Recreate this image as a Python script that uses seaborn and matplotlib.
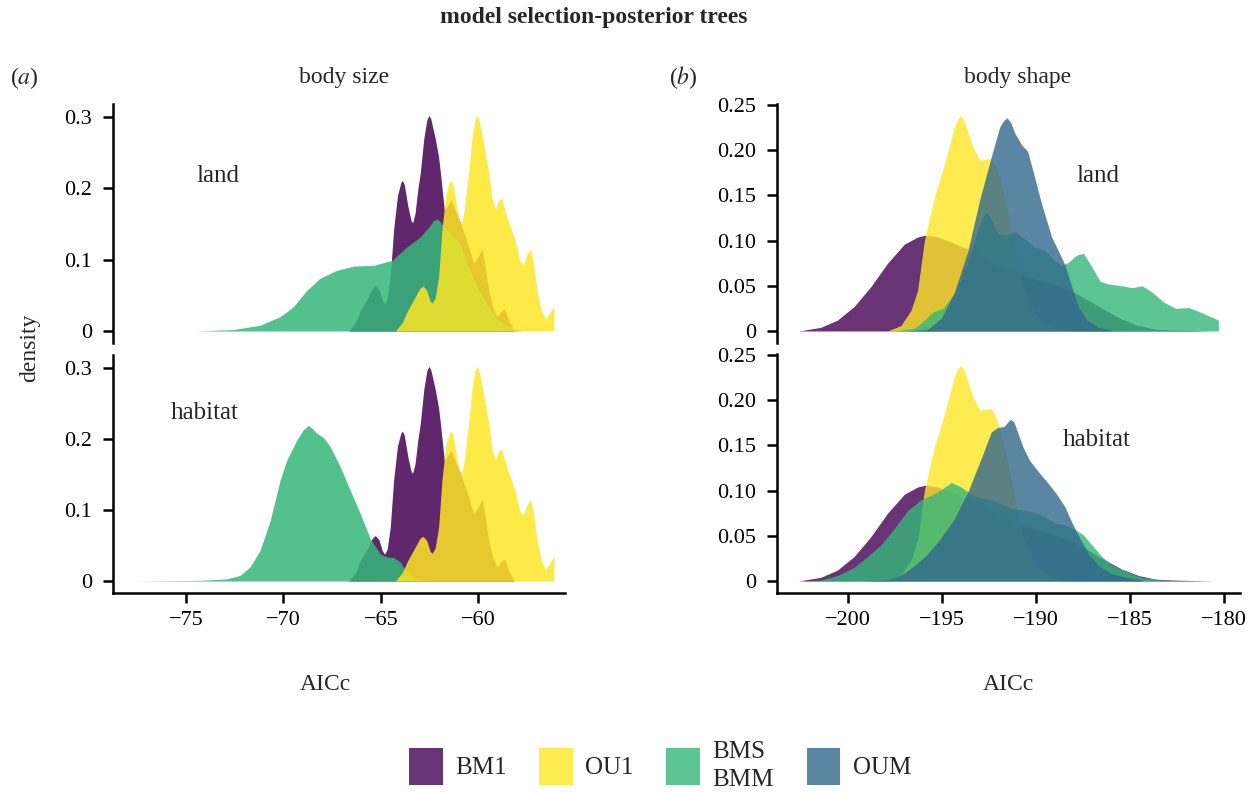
import numpy as np
import pandas as pd
import matplotlib
matplotlib.use("Agg")
import matplotlib.pyplot as plt
from matplotlib.patches import Patch
import seaborn as sns

# ---- data (AICc, density) ----
# body size (left column)
size_bm1_x = [-66.66, -66.30, -66.06, -65.70, -65.45, -65.29, -65.10, -64.92, -64.81, -64.68,
              -64.52, -64.35, -64.15, -63.98, -63.90, -63.80, -63.62, -63.45, -63.37, -63.25,
              -63.10, -62.98, -62.80, -62.65, -62.55, -62.45, -62.30, -62.21, -62.05, -61.95,
              -61.75, -61.60, -61.40, -61.20, -60.92, -60.58, -60.24, -60.00, -59.81, -59.65,
              -59.47, -59.25, -59.04, -58.85, -58.66, -58.45, -58.18]
size_bm1_y = [0.0, 0.012, 0.029, 0.045, 0.060, 0.064, 0.058, 0.042, 0.038, 0.045,
              0.076, 0.142, 0.190, 0.208, 0.211, 0.205, 0.175, 0.154, 0.152, 0.165,
              0.200, 0.222, 0.270, 0.295, 0.302, 0.298, 0.280, 0.269, 0.245, 0.222,
              0.170, 0.175, 0.184, 0.170, 0.151, 0.125, 0.095, 0.105, 0.115, 0.090,
              0.057, 0.032, 0.020, 0.027, 0.031, 0.015, 0.001]

size_ou1_x = [-64.26, -63.90, -63.66, -63.30, -63.00, -62.84, -62.65, -62.48, -62.38, -62.22,
              -62.04, -61.87, -61.68, -61.50, -61.40, -61.30, -61.12, -60.95, -60.85, -60.72,
              -60.60, -60.50, -60.33, -60.18, -60.10, -60.00, -59.85, -59.73, -59.60, -59.47,
              -59.30, -59.13, -58.98, -58.82, -58.65, -58.44, -58.28, -58.10, -57.90, -57.71,
              -57.50, -57.33, -57.18, -56.99, -56.78, -56.56, -56.35, -56.16, -56.13]
size_ou1_y = [0.0, 0.012, 0.027, 0.045, 0.060, 0.063, 0.057, 0.042, 0.039, 0.046,
              0.076, 0.142, 0.190, 0.208, 0.211, 0.205, 0.175, 0.152, 0.153, 0.170,
              0.200, 0.222, 0.270, 0.295, 0.302, 0.298, 0.280, 0.262, 0.240, 0.222,
              0.185, 0.170, 0.182, 0.186, 0.170, 0.151, 0.140, 0.125, 0.100, 0.092,
              0.108, 0.115, 0.095, 0.057, 0.028, 0.017, 0.025, 0.034, 0.034]

size_bms_land_x = [-77.62, -74.54, -72.57, -71.20, -70.17, -69.49, -68.80, -68.12, -67.26, -66.40,
                   -65.38, -64.43, -63.66, -62.98, -62.50, -62.29, -62.12, -61.95, -61.78, -61.27,
                   -60.92, -60.58, -60.07, -59.55, -59.04, -58.53, -57.84]
size_bms_land_y = [0.0, 0.0, 0.002, 0.008, 0.020, 0.034, 0.057, 0.074, 0.085, 0.091,
                   0.092, 0.099, 0.118, 0.132, 0.147, 0.155, 0.157, 0.153, 0.146, 0.132,
                   0.121, 0.095, 0.062, 0.036, 0.017, 0.007, 0.001]

size_bms_hab_x = [-77.62, -74.28, -72.91, -72.23, -71.71, -71.20, -70.68, -70.17, -69.83, -69.32,
                  -69.00, -68.72, -68.50, -68.29, -67.95, -67.60, -67.09, -66.58, -66.06, -65.55,
                  -65.03, -64.69, -64.35, -64.01, -63.75, -63.32, -62.81]
size_bms_hab_y = [0.0, 0.001, 0.003, 0.008, 0.020, 0.043, 0.085, 0.142, 0.170, 0.198,
                  0.212, 0.219, 0.214, 0.208, 0.202, 0.189, 0.161, 0.128, 0.095, 0.060,
                  0.038, 0.034, 0.033, 0.027, 0.015, 0.005, 0.001]

# body shape (right column)
shape_bm1_x = [-202.62, -201.46, -200.57, -199.68, -198.79, -197.90, -197.01, -196.30, -195.90, -195.23,
               -194.34, -193.45, -192.56, -191.67, -190.77, -189.88, -188.99, -188.10, -187.21, -186.32,
               -185.43, -184.54, -183.65, -182.76, -180.60]
shape_bm1_y = [0.0, 0.004, 0.012, 0.027, 0.049, 0.075, 0.096, 0.104, 0.106, 0.104,
               0.097, 0.089, 0.078, 0.069, 0.062, 0.056, 0.051, 0.044, 0.034, 0.023,
               0.013, 0.006, 0.002, 0.001, 0.0]

shape_ou1_x = [-197.90, -197.19, -196.65, -196.30, -195.94, -195.41, -194.87, -194.34, -194.18, -194.03,
               -193.88, -193.71, -193.36, -193.00, -192.73, -192.41, -192.20, -192.02, -191.67, -191.31,
               -190.95, -190.60, -190.06, -189.53, -188.99, -188.28]
shape_ou1_y = [0.0, 0.006, 0.023, 0.045, 0.100, 0.148, 0.185, 0.226, 0.234, 0.238,
               0.235, 0.226, 0.204, 0.189, 0.190, 0.191, 0.185, 0.174, 0.148, 0.112,
               0.071, 0.041, 0.019, 0.008, 0.003, 0.0]

shape_bmm_land_x = [-197.54, -196.47, -195.94, -195.49, -194.96, -194.34, -193.62, -193.09, -192.80, -192.64,
                    -192.45, -192.02, -191.58, -191.13, -190.60, -190.06, -189.53, -188.99, -188.64, -188.28,
                    -187.84, -187.48, -187.03, -186.59, -186.14, -185.43, -184.90, -184.36, -183.83, -183.21,
                    -182.58, -181.87, -181.16, -180.30]
shape_bmm_land_y = [0.0, 0.003, 0.012, 0.021, 0.025, 0.041, 0.076, 0.112, 0.127, 0.130,
                    0.126, 0.108, 0.106, 0.110, 0.102, 0.093, 0.089, 0.078, 0.072, 0.076,
                    0.084, 0.086, 0.071, 0.055, 0.052, 0.050, 0.048, 0.050, 0.043, 0.032,
                    0.025, 0.026, 0.020, 0.012]

shape_oum_land_x = [-196.83, -195.76, -195.05, -194.34, -193.62, -193.00, -192.38, -191.93, -191.72, -191.54,
                    -191.35, -191.13, -190.77, -190.45, -190.15, -189.71, -189.17, -188.82, -188.46, -188.10,
                    -187.75, -187.30, -186.68, -185.97]
shape_oum_land_y = [0.0, 0.002, 0.014, 0.043, 0.089, 0.145, 0.193, 0.226, 0.233, 0.236,
                    0.231, 0.219, 0.206, 0.199, 0.176, 0.141, 0.104, 0.089, 0.073, 0.049,
                    0.027, 0.012, 0.004, 0.001]

shape_bmm_hab_x = [-202.62, -201.46, -200.57, -199.68, -198.97, -198.25, -197.54, -196.83, -196.12, -195.58,
                   -195.05, -194.51, -193.98, -193.45, -192.91, -192.38, -191.84, -191.31, -190.77, -190.06,
                   -189.53, -188.99, -188.46, -187.93, -187.48, -187.03, -186.50, -185.97, -185.25, -184.36,
                   -183.29, -180.62]
shape_bmm_hab_y = [0.0, 0.001, 0.006, 0.015, 0.027, 0.040, 0.058, 0.078, 0.090, 0.095,
                   0.101, 0.109, 0.104, 0.096, 0.092, 0.090, 0.085, 0.080, 0.079, 0.076,
                   0.071, 0.064, 0.062, 0.057, 0.051, 0.040, 0.027, 0.018, 0.011, 0.004,
                   0.001, 0.0]

shape_oum_hab_x = [-199.15, -197.90, -197.19, -196.47, -195.76, -195.05, -194.34, -193.62, -192.91, -192.38,
                   -192.02, -191.70, -191.50, -191.34, -191.18, -191.04, -190.69, -190.33, -189.88, -189.35,
                   -188.90, -188.46, -188.10, -187.66, -187.21, -186.68, -185.97, -185.25, -184.36]
shape_oum_hab_y = [0.0, 0.001, 0.006, 0.017, 0.030, 0.048, 0.069, 0.099, 0.136, 0.165,
                   0.170, 0.171, 0.176, 0.179, 0.176, 0.168, 0.148, 0.133, 0.121, 0.108,
                   0.096, 0.082, 0.065, 0.047, 0.030, 0.017, 0.008, 0.004, 0.001]

models = ['BM1', 'OU1', 'BMS\nBMM', 'OUM']
model_colors = ['#440154', '#fde725', '#35b779', '#31688e']

# ---- style ----
sns.set_theme(style='ticks')
plt.rcParams['font.family'] = ['Liberation Serif', 'DejaVu Serif']
plt.rcParams['mathtext.fontset'] = 'stix'
plt.rcParams['axes.linewidth'] = 1.8
plt.rcParams['xtick.major.width'] = 1.8
plt.rcParams['ytick.major.width'] = 1.8
plt.rcParams['xtick.major.size'] = 7
plt.rcParams['ytick.major.size'] = 7
plt.rcParams['xtick.labelsize'] = 16
plt.rcParams['ytick.labelsize'] = 16
plt.rcParams['xtick.color'] = 'black'
plt.rcParams['ytick.color'] = 'black'
plt.rcParams['axes.edgecolor'] = 'black'

W, H = 1254, 792
fig = plt.figure(figsize=(W / 100, H / 100), dpi=100)


def box(l, r, t, b):
    return [l / W, 1 - b / H, (r - l) / W, (b - t) / H]


ax_tl = fig.add_axes(box(113, 565, 104, 343))
ax_bl = fig.add_axes(box(113, 565, 355, 593))
ax_tr = fig.add_axes(box(777, 1240, 104, 343))
ax_br = fig.add_axes(box(777, 1240, 354, 593))


def dens(ax, x, y, color, alpha):
    ax.fill_between(x, 0, y, color=color, alpha=alpha, linewidth=0)


# body size: BM1, BMS, OU1 drawn in this order
for ax, bx, by in [(ax_tl, size_bms_land_x, size_bms_land_y),
                   (ax_bl, size_bms_hab_x, size_bms_hab_y)]:
    dens(ax, size_bm1_x, size_bm1_y, model_colors[0], 0.85)
    dens(ax, bx, by, model_colors[2], 0.85)
    dens(ax, size_ou1_x, size_ou1_y, model_colors[1], 0.85)
    ax.set_xlim(-78.74, -55.56)
    ax.set_ylim(-0.0168, 0.318)
    ax.set_yticks([0, 0.1, 0.2, 0.3])
    ax.set_yticklabels(['0', '0.1', '0.2', '0.3'])

# body shape: BM1, OU1, BMM, OUM
for ax, gx, gy, ox, oy in [(ax_tr, shape_bmm_land_x, shape_bmm_land_y, shape_oum_land_x, shape_oum_land_y),
                           (ax_br, shape_bmm_hab_x, shape_bmm_hab_y, shape_oum_hab_x, shape_oum_hab_y)]:
    dens(ax, shape_bm1_x, shape_bm1_y, model_colors[0], 0.8)
    dens(ax, shape_ou1_x, shape_ou1_y, model_colors[1], 0.8)
    dens(ax, gx, gy, model_colors[2], 0.8)
    dens(ax, ox, oy, model_colors[3], 0.8)
    ax.set_xlim(-203.78, -179.15)
    ax.set_ylim(-0.0133, 0.2512)
    ax.set_yticks([0, 0.05, 0.10, 0.15, 0.20, 0.25])
    ax.set_yticklabels(['0', '0.05', '0.10', '0.15', '0.20', '0.25'])

for ax in [ax_tl, ax_tr]:
    sns.despine(ax=ax, bottom=True)
    ax.set_xticks([])
for ax in [ax_bl, ax_br]:
    sns.despine(ax=ax)
ax_bl.set_xticks([-75, -70, -65, -60])
ax_br.set_xticks([-200, -195, -190, -185, -180])
for ax in [ax_tl, ax_bl, ax_tr, ax_br]:
    ax.tick_params(axis='y', pad=8)
    ax.tick_params(axis='x', pad=6)

# panel labels inside axes
ax_tl.text(-73.36, 0.217, 'land', fontsize=18, ha='center', va='center')
ax_bl.text(-74.03, 0.236, 'habitat', fontsize=18, ha='center', va='center')
ax_tr.text(-186.7, 0.171, 'land', fontsize=18, ha='center', va='center')
ax_br.text(-186.8, 0.156, 'habitat', fontsize=18, ha='center', va='center')


def ftext(x, y, s, **kw):
    fig.text(x / W, 1 - y / H, s, **kw)


ftext(594, 18, 'model selection-posterior trees', fontsize=17, fontweight='bold', ha='center', va='center')
ftext(24, 78, r'($\mathit{a}$)', fontsize=17, ha='center', va='center')
ftext(344, 78, 'body size', fontsize=17, ha='center', va='center')
ftext(683, 78, r'($\mathit{b}$)', fontsize=17, ha='center', va='center')
ftext(1018, 78, 'body shape', fontsize=17, ha='center', va='center')
ftext(30, 348, 'density', fontsize=17, ha='center', va='center', rotation=90)
ftext(325, 684, 'AICc', fontsize=17, ha='center', va='center')
ftext(1008, 684, 'AICc', fontsize=17, ha='center', va='center')

handles = [Patch(facecolor=c, alpha=0.8, edgecolor='none', label=m) for c, m in zip(model_colors, models)]
leg = fig.legend(handles=handles, loc='center', bbox_to_anchor=(660 / W, 1 - 766 / H), ncol=4,
                 frameon=False, fontsize=18, handlelength=1.35, handleheight=1.9,
                 handletextpad=0.5, columnspacing=1.3)
for t in leg.get_texts():
    t.set_linespacing(1.4)

fig.savefig('out.png', dpi=100)
